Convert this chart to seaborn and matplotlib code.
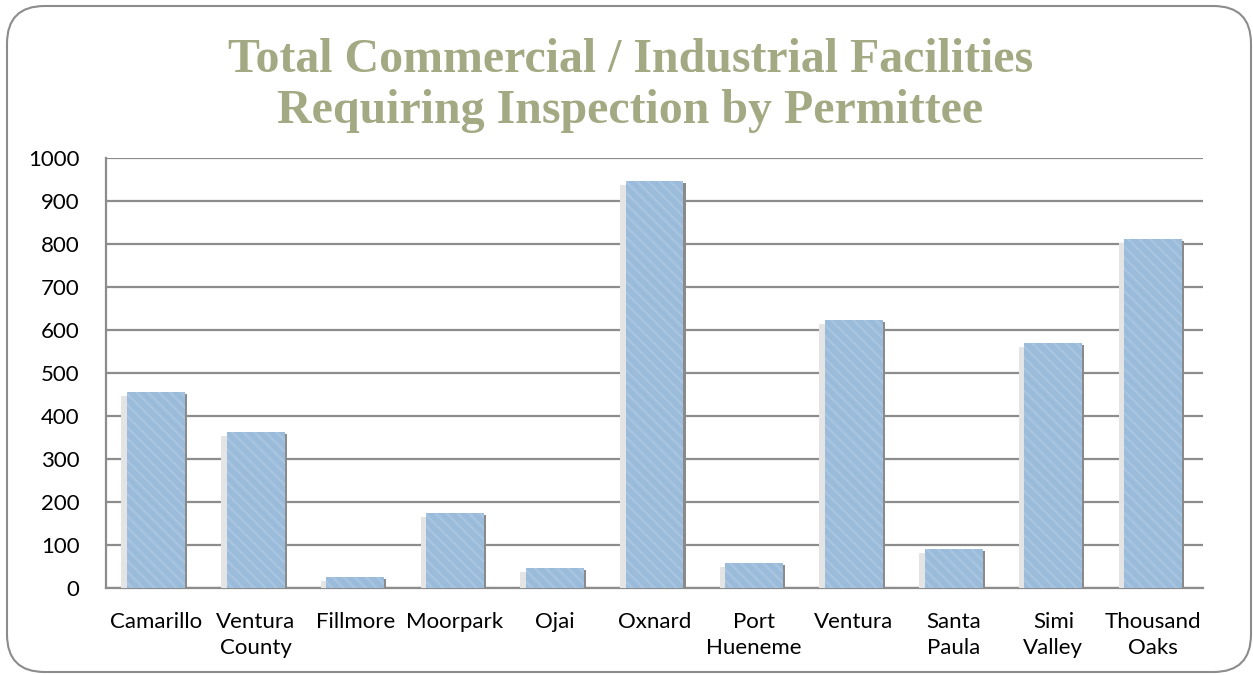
import matplotlib
matplotlib.use('Agg')
import matplotlib.pyplot as plt
import matplotlib.patheffects as pe
from matplotlib.colors import to_rgb
from matplotlib.patches import FancyBboxPatch
import pandas as pd
import seaborn as sns

permittees = ['Camarillo', 'Ventura\nCounty', 'Fillmore', 'Moorpark', 'Ojai', 'Oxnard',
              'Port\nHueneme', 'Ventura', 'Santa\nPaula', 'Simi\nValley', 'Thousand\nOaks']
facilities = [456, 363, 26, 174, 46, 946, 58, 623, 91, 570, 812]
y_ticks = [0, 100, 200, 300, 400, 500, 600, 700, 800, 900, 1000]

df = pd.DataFrame({'permittee': permittees, 'facilities': facilities})


class PlainShadow(pe.AbstractPathEffect):
    # shadow without the hatch texture
    def __init__(self, offset, color):
        super().__init__(offset)
        self.color = to_rgb(color)

    def draw_path(self, renderer, gc, tpath, affine, rgbFace):
        gc0 = renderer.new_gc()
        gc0.copy_properties(gc)
        gc0.set_hatch(None)
        gc0.set_linewidth(0)
        renderer.draw_path(gc0, tpath, affine + self._offset_transform(renderer), self.color)
        gc0.restore()


sns.set_theme(style='white')
plt.rcParams['font.family'] = ['Lato', 'DejaVu Sans']
plt.rcParams['hatch.linewidth'] = 1.8

fig = plt.figure(figsize=(12.53, 6.75), dpi=100)
ax = fig.add_axes([0.0846, 0.129, 0.8755, 0.637])

sns.barplot(data=df, x='permittee', y='facilities', color='#9bbbdb', width=0.58,
            saturation=1, ax=ax, zorder=3)

for bar in ax.patches:
    bar.set_hatch('\\\\\\')
    bar.set_edgecolor('#a7c4e0')
    bar.set_linewidth(0)
    bar.set_path_effects([
        PlainShadow((-4, -3), '#e4e4e4'),
        PlainShadow((1.5, -1.5), '#8a8a8a'),
        pe.Normal(),
    ])

ax.set_ylim(0, 1000)
ax.set_yticks(y_ticks)
ax.set_xlim(-0.5, len(permittees) - 0.5)
ax.yaxis.grid(True, color='#8c8c8c', linewidth=1.6)
ax.set_axisbelow(True)
for side in ['top', 'right']:
    ax.spines[side].set_visible(False)
for side in ['left', 'bottom']:
    ax.spines[side].set_color('#8c8c8c')
    ax.spines[side].set_linewidth(1.6)
ax.tick_params(axis='both', length=0, labelsize=16, colors='black')
ax.tick_params(axis='x', pad=17)
ax.tick_params(axis='y', pad=19)
for lab in ax.get_xticklabels():
    lab.set_linespacing(1.4)
ax.set_xlabel('')
ax.set_ylabel('')

fig.text(0.503, 0.873, 'Total Commercial / Industrial Facilities\nRequiring Inspection by Permittee',
         ha='center', va='center', fontsize=34.5, fontweight='bold', color='#a3a982',
         family=['Liberation Serif'], linespacing=1.22)

border = FancyBboxPatch((7 / 1253, 3 / 675), 1244 / 1253, 666 / 675,
                        boxstyle='round,pad=0,rounding_size=0.03',
                        transform=fig.transFigure, fill=False, edgecolor='#8c8c8c',
                        linewidth=1.5, mutation_aspect=1253 / 675)
fig.patches.append(border)

fig.savefig('out.png', dpi=100)
